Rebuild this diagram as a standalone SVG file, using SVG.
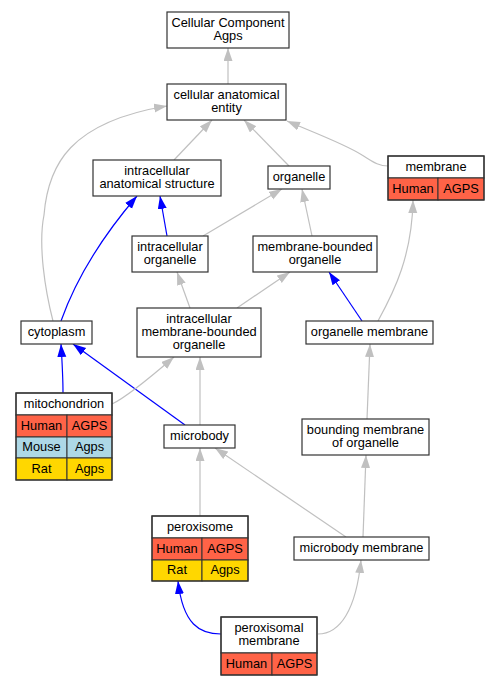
<svg xmlns="http://www.w3.org/2000/svg" width="500" height="685" viewBox="0 0 500 685">
<style>
  text { font-family: "Liberation Sans", Arial, sans-serif; font-size: 12.8px; fill: #000; text-anchor: middle; }
  .box { fill: #fff; stroke: #333; stroke-width: 1.2; }
  .cell { stroke: #333; stroke-width: 1; }
  .human { fill: #FF6347; }
  .mouse { fill: #ADD8E6; }
  .rat { fill: #FFD700; }
  .g { fill: none; stroke: #C0C0C0; stroke-width: 1.2; marker-end: url(#ag); }
  .b { fill: none; stroke: #0000FF; stroke-width: 1.2; marker-end: url(#ab); }
</style>
<defs>
  <marker id="ag" markerUnits="userSpaceOnUse" markerWidth="14" markerHeight="10" refX="13" refY="4.5" orient="auto">
    <path d="M0,0 L13,4.5 L0,9 z" fill="#C0C0C0"/>
  </marker>
  <marker id="ab" markerUnits="userSpaceOnUse" markerWidth="14" markerHeight="10" refX="13" refY="4.5" orient="auto">
    <path d="M0,0 L13,4.5 L0,9 z" fill="#0000FF"/>
  </marker>
</defs>
<rect width="500" height="685" fill="#fff"/>
<g id="edges">
  <path class="g" d="M228,84 L228,48"/>
  <path class="g" d="M174,160 L212,120"/>
  <path class="g" d="M289,166 L244,120"/>
  <path class="g" d="M388,166 C378,166 372,161 362,155 C345,144 310,131 287,121"/>
  <path class="g" d="M53,321 C45,290 38,245 44,215 C48,165 70,122 167,106"/>
  <path class="b" d="M167,236 L160,196"/>
  <path class="b" d="M61,321 C72,290 95,245 137,196"/>
  <path class="g" d="M203,236 L282,189"/>
  <path class="g" d="M312,236 L302,189"/>
  <path class="g" d="M378,321 C395,290 412,255 413,200"/>
  <path class="b" d="M362,321 L329,272"/>
  <path class="g" d="M190,308 L177,272"/>
  <path class="g" d="M237,308 L290,272"/>
  <path class="b" d="M63,393 C63,380 62,360 61,344"/>
  <path class="b" d="M185,425 L73,344"/>
  <path class="g" d="M112,404 C125,398 145,382 174,357"/>
  <path class="g" d="M200,425 L200,357"/>
  <path class="g" d="M367,419 L370,344"/>
  <path class="g" d="M200,516 L200,448"/>
  <path class="g" d="M346,537 L215,448"/>
  <path class="g" d="M363,537 L366,455"/>
  <path class="b" d="M221,634 C200,634 183,625 178,581"/>
  <path class="g" d="M318,634 C340,634 356,610 361,560"/>
</g>
<g id="cellular_component_agps">
  <rect class="box" x="167" y="12" width="122" height="36"/>
  <text x="228" y="26.8">Cellular Component</text>
  <text x="228" y="39.8">Agps</text>
</g>
<g id="cellular_anatomical_entity">
  <rect class="box" x="167" y="84" width="119" height="36"/>
  <text x="226.5" y="98.8">cellular anatomical</text>
  <text x="226.5" y="111.8">entity</text>
</g>
<g id="intracellular_anatomical_structure">
  <rect class="box" x="93" y="160" width="128" height="36"/>
  <text x="157" y="174.8">intracellular</text>
  <text x="157" y="187.8">anatomical structure</text>
</g>
<g id="organelle">
  <rect class="box" x="268" y="166" width="62" height="23"/>
  <text x="299" y="181.3">organelle</text>
</g>
<g id="membrane">
  <rect class="box" x="388" y="156" width="96" height="22"/>
  <rect class="cell human" x="388" y="178" width="50" height="22"/>
  <rect class="cell human" x="438" y="178" width="46" height="22"/>
  <rect x="388" y="156" width="96" height="44" fill="none" stroke="#333" stroke-width="1.2"/>
  <text x="436" y="170.8">membrane</text>
  <text x="413" y="192.8">Human</text>
  <text x="461" y="192.8">AGPS</text>
</g>
<g id="intracellular_organelle">
  <rect class="box" x="132" y="236" width="76" height="36"/>
  <text x="170" y="250.8">intracellular</text>
  <text x="170" y="263.8">organelle</text>
</g>
<g id="membrane_bounded_organelle">
  <rect class="box" x="253" y="236" width="124" height="36"/>
  <text x="315" y="250.8">membrane-bounded</text>
  <text x="315" y="263.8">organelle</text>
</g>
<g id="cytoplasm">
  <rect class="box" x="21" y="321" width="71" height="23"/>
  <text x="56.5" y="336.3">cytoplasm</text>
</g>
<g id="intracellular_membrane_bounded_organelle">
  <rect class="box" x="137" y="308" width="124" height="49"/>
  <text x="199" y="323.3">intracellular</text>
  <text x="199" y="336.3">membrane-bounded</text>
  <text x="199" y="349.3">organelle</text>
</g>
<g id="organelle_membrane">
  <rect class="box" x="306" y="321" width="127" height="23"/>
  <text x="369.5" y="336.3">organelle membrane</text>
</g>
<g id="mitochondrion">
  <rect class="box" x="16" y="393" width="96" height="22"/>
  <rect class="cell human" x="16" y="415" width="51" height="22"/>
  <rect class="cell human" x="67" y="415" width="45" height="22"/>
  <rect class="cell mouse" x="16" y="437" width="51" height="21"/>
  <rect class="cell mouse" x="67" y="437" width="45" height="21"/>
  <rect class="cell rat" x="16" y="458" width="51" height="22"/>
  <rect class="cell rat" x="67" y="458" width="45" height="22"/>
  <rect x="16" y="393" width="96" height="87" fill="none" stroke="#333" stroke-width="1.2"/>
  <text x="64" y="407.8">mitochondrion</text>
  <text x="41.5" y="429.8">Human</text>
  <text x="89.5" y="429.8">AGPS</text>
  <text x="41.5" y="451.3">Mouse</text>
  <text x="89.5" y="451.3">Agps</text>
  <text x="41.5" y="472.8">Rat</text>
  <text x="89.5" y="472.8">Agps</text>
</g>
<g id="microbody">
  <rect class="box" x="164" y="425" width="71" height="23"/>
  <text x="199.5" y="440.3">microbody</text>
</g>
<g id="bounding_membrane_of_organelle">
  <rect class="box" x="302" y="419" width="127" height="36"/>
  <text x="365.5" y="433.8">bounding membrane</text>
  <text x="365.5" y="446.8">of organelle</text>
</g>
<g id="peroxisome">
  <rect class="box" x="152" y="516" width="96" height="22"/>
  <rect class="cell human" x="152" y="538" width="50" height="22"/>
  <rect class="cell human" x="202" y="538" width="46" height="22"/>
  <rect class="cell rat" x="152" y="560" width="50" height="21"/>
  <rect class="cell rat" x="202" y="560" width="46" height="21"/>
  <rect x="152" y="516" width="96" height="65" fill="none" stroke="#333" stroke-width="1.2"/>
  <text x="200" y="530.8">peroxisome</text>
  <text x="177" y="552.8">Human</text>
  <text x="225" y="552.8">AGPS</text>
  <text x="177" y="574.3">Rat</text>
  <text x="225" y="574.3">Agps</text>
</g>
<g id="microbody_membrane">
  <rect class="box" x="294" y="537" width="135" height="23"/>
  <text x="361.5" y="552.3">microbody membrane</text>
</g>
<g id="peroxisomal_membrane">
  <rect class="box" x="221" y="617" width="96" height="36"/>
  <rect class="cell human" x="221" y="653" width="51" height="22"/>
  <rect class="cell human" x="272" y="653" width="45" height="22"/>
  <rect x="221" y="617" width="96" height="58" fill="none" stroke="#333" stroke-width="1.2"/>
  <text x="269" y="631.8">peroxisomal</text>
  <text x="269" y="644.8">membrane</text>
  <text x="246.5" y="667.8">Human</text>
  <text x="294.5" y="667.8">AGPS</text>
</g>
</svg>
